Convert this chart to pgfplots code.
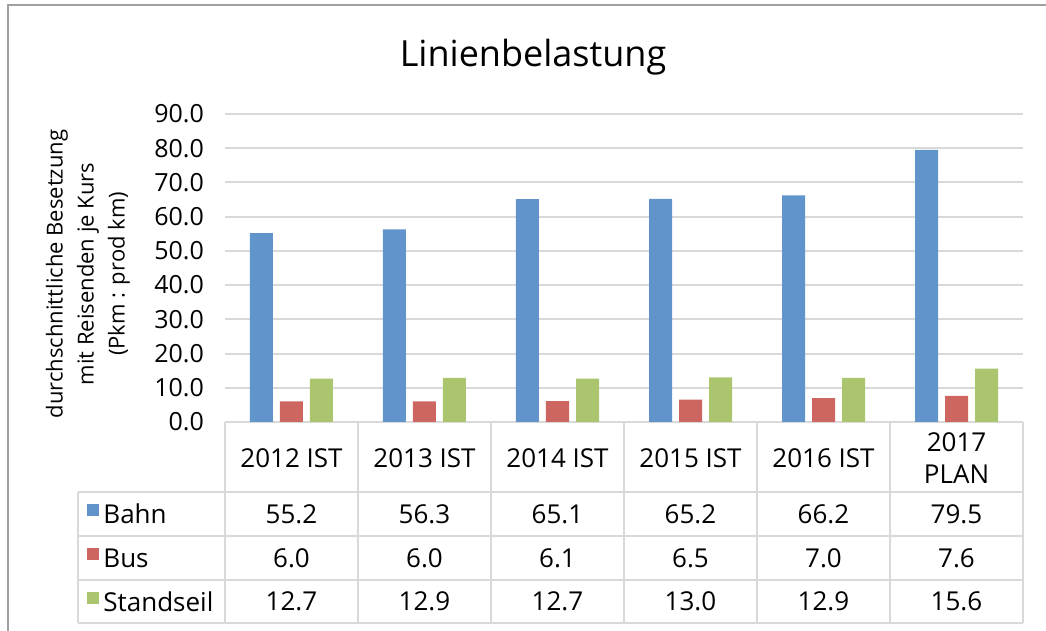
\documentclass[border=0pt]{standalone}
\usepackage{fontspec}
\setmainfont{Open Sans}
\usepackage{pgfplots}
\usepackage{pgfplotstable}
\pgfplotsset{compat=1.18}
\definecolor{bahn}{HTML}{6294CC}
\definecolor{bus}{HTML}{CD6661}
\definecolor{seil}{HTML}{ABC56E}
\definecolor{gridgray}{HTML}{D9D9D9}
\definecolor{framegray}{HTML}{A0A0A0}

\pgfplotstableread{
x Bahn Bus Standseil
0 55.2 6.0 12.7
1 56.3 6.0 12.9
2 65.1 6.1 12.7
3 65.2 6.5 13.0
4 66.2 7.0 12.9
5 79.5 7.6 15.6
}\linien

\pgfplotsset{cell/.style={only marks, mark=*, mark size=0pt, nodes near coords,
  point meta=explicit symbolic, nodes near coords align={center},
  every node near coord/.style={black, anchor=center, font=\fontsize{13}{16}\selectfont}}}

\begin{document}
\begin{tikzpicture}
\begin{axis}[scale only axis, width=399pt, height=154pt,
  xmin=-0.5, xmax=5.5, ymin=0, ymax=90, clip=false,
  axis line style={draw=none}, tick style={draw=none},
  ytick={0,10,...,90}, ymajorgrids, grid style={gridgray, line width=1pt},
  xtick={0,...,5},
  xticklabels={2012 IST,2013 IST,2014 IST,2015 IST,2016 IST,{2017\\PLAN}},
  xticklabel style={anchor=center, yshift=-18pt, align=center, font=\fontsize{13}{16}\selectfont},
  yticklabel style={font=\fontsize{12.5}{15}\selectfont, xshift=-7pt,
    /pgf/number format/fixed, /pgf/number format/fixed zerofill,
    /pgf/number format/precision=1, /pgf/number format/assume math mode=true},
  bar width=11.5pt]

\addplot[ybar, bar shift=-15pt, fill=bahn, draw=none] table[x=x, y=Bahn]{\linien};
\addplot[ybar, bar shift=0pt, fill=bus, draw=none] table[x=x, y=Bus]{\linien};
\addplot[ybar, bar shift=15pt, fill=seil, draw=none] table[x=x, y=Standseil]{\linien};

% data table under the chart
\addplot[cell] table[x=x, y expr=-26.88, meta=Bahn]{\linien};
\addplot[cell] table[x=x, y expr=-39.74, meta=Bus]{\linien};
\addplot[cell] table[x=x, y expr=-52.45, meta=Standseil]{\linien};

\draw[gridgray, line width=1pt] (axis cs:-1.605,-20.45) -- (axis cs:5.5,-20.45);
\draw[gridgray, line width=1pt] (axis cs:-1.605,-33.31) -- (axis cs:5.5,-33.31);
\draw[gridgray, line width=1pt] (axis cs:-1.605,-46.17) -- (axis cs:5.5,-46.17);
\draw[gridgray, line width=1pt] (axis cs:-1.605,-58.73) -- (axis cs:5.5,-58.73);
\draw[gridgray, line width=1pt] (axis cs:-1.605,-20.45) -- (axis cs:-1.605,-58.73);
\pgfplotsinvokeforeach{-0.5,0.5,1.5,2.5,3.5,4.5,5.5}{
  \draw[gridgray, line width=1pt] (axis cs:#1,0) -- (axis cs:#1,-58.73);
}

\fill[bahn] (axis cs:-1.537,-23.96) rectangle (axis cs:-1.447,-27.47);
\fill[bus]  (axis cs:-1.537,-36.82) rectangle (axis cs:-1.447,-40.32);
\fill[seil] (axis cs:-1.537,-49.68) rectangle (axis cs:-1.447,-53.18);
\node[anchor=west, inner xsep=0pt, font=\fontsize{13}{16}\selectfont] at (axis cs:-1.417,-26.88) {Bahn};
\node[anchor=west, inner xsep=0pt, font=\fontsize{13}{16}\selectfont] at (axis cs:-1.417,-39.74) {Bus};
\node[anchor=west, inner xsep=0pt, font=\fontsize{13}{16}\selectfont] at (axis cs:-1.417,-52.45) {Standseil};

% titles
\node[anchor=base, font=\fontsize{18}{21}\selectfont] at (axis cs:1.816,103.73) {Linienbelastung};
\node[rotate=90, align=center, font=\fontsize{11}{15.5}\selectfont] at (axis cs:-1.53,43.25)
  {durchschnittliche Besetzung\\mit Reisenden je Kurs\\(Pkm : prod km)};

% chart frame and page size
\draw[framegray, line width=1pt] (axis cs:-2.1316,-61.07) -- (axis cs:-2.1316,121.85) -- (axis cs:5.673,121.85);
\coordinate (bl) at (axis cs:-2.1917,-61.07);
\coordinate (tr) at (axis cs:5.6729,123.31);
\end{axis}
\pgfresetboundingbox
\path[use as bounding box] (bl) rectangle (tr);
\end{tikzpicture}
\end{document}
